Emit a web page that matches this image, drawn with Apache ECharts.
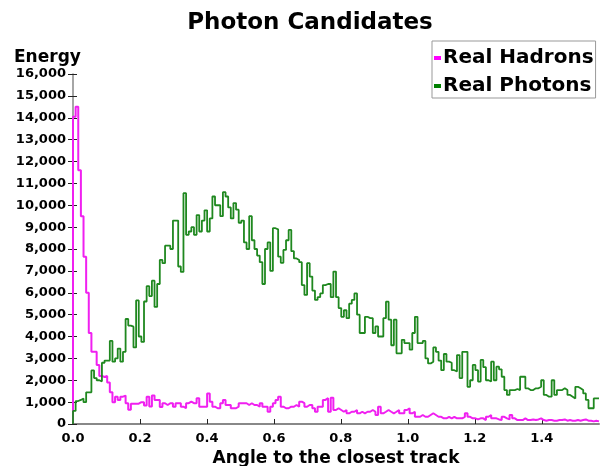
<!DOCTYPE html>
<html>
<head>
<meta charset="utf-8">
<script src="https://cdn.jsdelivr.net/npm/echarts@6/dist/echarts.min.js"></script>
<style>
  html, body { margin: 0; padding: 0; background: #fff; }
  #chart { width: 601px; height: 466px; }
</style>
</head>
<body>
<div id="chart"></div>
<script>
// Histogram of the angle between each photon candidate and the closest track,
// 200 equal bins from 0 to pi/2, energy summed per bin.
const xMax = Math.PI / 2;
const xTickValues = [0, 0.2, 0.4, 0.6, 0.8, 1.0, 1.2, 1.4];

const hadrons = [
  14050, 14500, 11600, 9500, 7650, 6000, 4160, 3300, 3300, 2700,
  2200, 2150, 2200, 1900, 1450, 1000, 1250, 1100, 1250, 1300,
  950, 650, 930, 930, 930, 1000, 1000, 850, 1250, 800,
  1300, 1100, 1100, 780, 950, 870, 950, 950, 790, 950,
  950, 790, 720, 950, 1020, 950, 950, 1180, 790, 790,
  790, 1400, 1020, 790, 720, 720, 950, 1100, 870, 870,
  720, 720, 790, 950, 950, 950, 870, 950, 870, 870,
  790, 950, 790, 790, 560, 790, 950, 1100, 1250, 790,
  720, 720, 790, 790, 870, 790, 1020, 950, 790, 870,
  870, 720, 560, 790, 790, 1100, 1180, 560, 1200, 640,
  720, 640, 560, 640, 490, 560, 560, 640, 490, 560,
  490, 560, 560, 640, 560, 410, 790, 490, 560, 640,
  560, 490, 560, 640, 490, 490, 640, 720, 490, 560,
  330, 330, 410, 330, 330, 410, 490, 410, 330, 330,
  260, 260, 330, 260, 330, 260, 260, 260, 330, 490,
  330, 260, 260, 210, 260, 260, 180, 330, 410, 260,
  260, 210, 180, 330, 260, 210, 410, 260, 180, 180,
  180, 260, 180, 180, 210, 180, 210, 260, 180, 150,
  180, 180, 150, 150, 180, 180, 210, 150, 180, 150,
  150, 180, 150, 180, 210, 150, 150, 120, 150, 120
];

const photons = [
  600, 1050, 1100, 1170, 1000, 1450, 1450, 2450, 2100, 2000,
  1950, 2800, 2900, 2900, 3800, 2850, 3000, 3450, 2850, 3300,
  4800, 4500, 4450, 3500, 5650, 4000, 3750, 5600, 6300, 5850,
  6550, 5350, 6400, 7500, 7350, 8150, 8150, 8000, 9300, 9300,
  7200, 6950, 10550, 8650, 8800, 9000, 8650, 9550, 8800, 9300,
  9770, 8800, 9400, 10400, 10000, 10000, 9500, 10600, 10400, 9900,
  9400, 10100, 9800, 9200, 9300, 8300, 8000, 9500, 8400, 8000,
  7700, 7400, 6400, 8000, 8300, 7000, 8950, 8900, 7650, 7370,
  7960, 8400, 8870, 7900, 7570, 7500, 7400, 6350, 5900, 7350,
  6740, 6100, 5670, 5800, 5970, 6350, 6400, 6400, 5800, 6970,
  5800, 5300, 4900, 5200, 4840, 5500, 5670, 5970, 5000, 4160,
  4160, 4900, 4840, 4840, 4160, 4460, 4000, 4000, 4840, 5590,
  4770, 3600, 4770, 3230, 3230, 3850, 3700, 3700, 3400, 4160,
  4900, 3700, 3700, 3800, 3000, 2770, 2850, 3500, 3300, 2900,
  2460, 3200, 2850, 2800, 2460, 2400, 3150, 2100, 3300, 3300,
  1700, 2000, 2700, 2460, 1940, 2930, 2600, 2000, 1940, 2850,
  2000, 2620, 2500, 2160, 1550, 1330, 1550, 1550, 1600, 1550,
  2160, 2160, 1630, 1550, 1550, 1630, 1630, 1700, 2000, 1330,
  1250, 1250, 2000, 1330, 1550, 1550, 1630, 1550, 1330, 1250,
  1170, 1700, 1630, 1550, 1400, 1100, 720, 720, 1170, 1170
];

// Turn bin contents into step points at the bin edges.
function toSteps(values) {
  const width = xMax / values.length;
  const pts = [[0, 0]];
  values.forEach((v, i) => pts.push([i * width, v]));
  pts.push([xMax, values[values.length - 1]]);
  return pts;
}

const font = 'DejaVu Sans';
const chart = echarts.init(document.getElementById('chart'), null, { renderer: 'canvas' });

chart.setOption({
  animation: false,
  backgroundColor: '#ffffff',
  title: {
    text: 'Photon Candidates',
    left: 305,
    textAlign: 'center',
    top: 7,
    textStyle: { fontFamily: font, fontWeight: 'bold', fontSize: 23, color: '#000' }
  },
  legend: {
    orient: 'vertical',
    left: 432,
    top: 41,
    padding: [7, 2, 2, 2],
    itemGap: 8,
    itemWidth: 7,
    itemHeight: 4,
    icon: 'rect',
    borderColor: '#999',
    borderWidth: 1,
    textStyle: { fontFamily: font, fontWeight: 'bold', fontSize: 20, color: '#000', padding: [0, 0, 0, -3] },
    data: ['Real Hadrons', 'Real Photons']
  },
  graphic: [{
    type: 'text',
    left: 14,
    top: 49,
    style: { text: 'Energy', fontFamily: font, fontWeight: 'bold', fontSize: 17, fill: '#000' }
  }],
  grid: { left: 73, right: 2, top: 74, bottom: 42, containLabel: false, outerBoundsMode: 'none' },
  xAxis: {
    type: 'value',
    min: 0,
    max: xMax,
    name: 'Angle to the closest track',
    nameLocation: 'middle',
    nameGap: 25,
    nameTextStyle: { fontFamily: font, fontWeight: 'bold', fontSize: 17, color: '#000' },
    axisLine: { show: true, lineStyle: { color: '#888', width: 2 } },
    axisTick: { show: true, inside: true, length: 5, customValues: xTickValues, lineStyle: { color: '#222' } },
    axisLabel: {
      customValues: xTickValues,
      margin: 8,
      fontFamily: font, fontWeight: 'bold', fontSize: 13, color: '#000',
      formatter: v => v.toFixed(1)
    },
    splitLine: { show: false }
  },
  yAxis: [{
    type: 'value',
    position: 'left',
    min: 0,
    max: 16000,
    interval: 1000,
    axisLine: { show: true, lineStyle: { color: '#888', width: 1.5 } },
    axisTick: { show: true, length: 5, lineStyle: { color: '#222' } },
    axisLabel: {
      margin: 7,
      fontFamily: font, fontWeight: 'bold', fontSize: 13, color: '#000',
      formatter: v => v.toLocaleString('en-US')
    },
    splitLine: { show: false }
  }, {
    type: 'value',
    position: 'left',
    min: 0,
    max: 16000,
    interval: 1000,
    axisLine: { show: false },
    axisTick: { show: true, inside: true, length: 4, lineStyle: { color: '#222' } },
    axisLabel: { show: false },
    splitLine: { show: false }
  }],
  series: [{
    name: 'Real Hadrons',
    type: 'line',
    step: 'end',
    data: toSteps(hadrons),
    showSymbol: false,
    color: '#ff00ff',
    lineStyle: { color: '#f020f0', width: 2 },
    z: 3
  }, {
    name: 'Real Photons',
    type: 'line',
    step: 'end',
    data: toSteps(photons),
    showSymbol: false,
    color: '#008000',
    lineStyle: { color: '#1f881f', width: 1.8 },
    z: 4
  }]
});
</script>
</body>
</html>
